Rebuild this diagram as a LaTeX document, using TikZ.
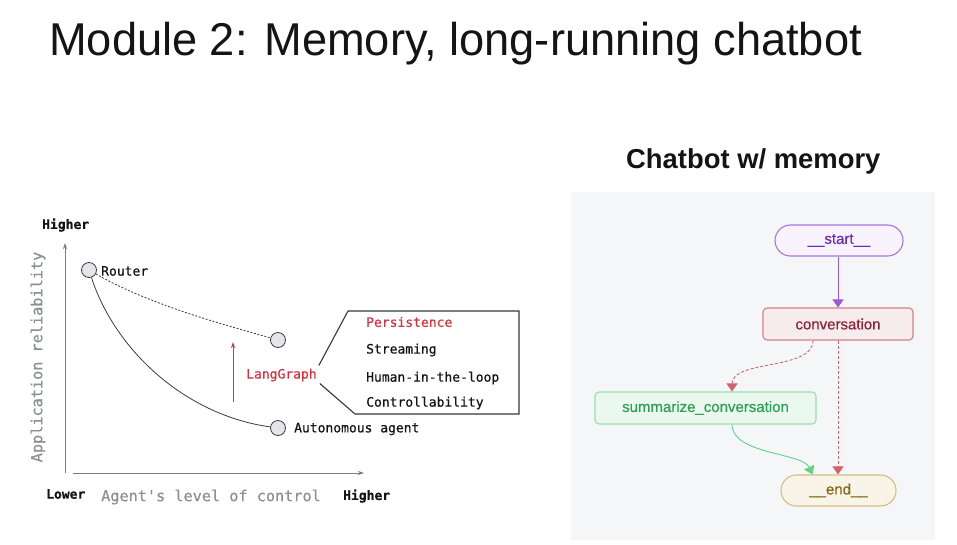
\documentclass[tikz,border=0pt]{standalone}
\usepackage{fontspec}
\setmainfont{Liberation Sans}
\newfontfamily\monofont[FakeBold=0.6]{DejaVu Sans Mono}
\newfontfamily\graphfont[FakeBold=0.5]{Liberation Sans}
\usetikzlibrary{arrows.meta,calc}

\definecolor{ink}{HTML}{141414}
\definecolor{panel}{HTML}{F5F6F8}
\definecolor{axisgray}{HTML}{7A7D82}
\definecolor{labelgray}{HTML}{8C9095}
\definecolor{lgred}{HTML}{D6333F}
\definecolor{dotfill}{HTML}{E3E5E9}
\definecolor{dotline}{HTML}{3C3C3C}
% graph node palette
\definecolor{stline}{HTML}{A874DC}
\definecolor{stfill}{HTML}{F8F2FD}
\definecolor{sttext}{HTML}{6A2DB3}
\definecolor{cvline}{HTML}{D87F88}
\definecolor{cvfill}{HTML}{F6ECEE}
\definecolor{cvtext}{HTML}{8C2433}
\definecolor{smline}{HTML}{93E2AC}
\definecolor{smfill}{HTML}{EAF8EF}
\definecolor{smtext}{HTML}{2E9F55}
\definecolor{enline}{HTML}{D8BC80}
\definecolor{enfill}{HTML}{F8F4E7}
\definecolor{entext}{HTML}{876919}
\definecolor{arpurple}{HTML}{9B57D8}
\definecolor{arred}{HTML}{D2636C}
\definecolor{argreen}{HTML}{62D384}

\tikzset{
  mono/.style={font=\monofont\fontsize{13}{15}\selectfont, inner sep=0pt},
  monobold/.style={font=\monofont\bfseries\fontsize{13}{15}\selectfont, inner sep=0pt, text=ink},
  axislabel/.style={font=\monofont\fontsize{15.2}{17}\selectfont, text=labelgray, inner sep=0pt},
  dot/.style={circle, draw=dotline, fill=dotfill, line width=0.8pt, minimum size=15pt, inner sep=0pt},
  axis/.style={draw=axisgray, line width=0.8pt, -{Stealth[length=6pt,width=4pt]}},
  gnode/.style={rectangle, line width=1.1pt, font=\graphfont\fontsize{15}{17}\selectfont, inner sep=0pt},
  pill/.style={gnode, rounded corners=15.5pt, minimum height=31pt},
  box/.style={gnode, rounded corners=4pt, minimum height=32pt},
  garrow/.style={line width=0.9pt, -{Triangle[length=8pt,width=11pt]}},
}

\begin{document}
\begin{tikzpicture}[x=1pt,y=-1pt]
\useasboundingbox (0,0) rectangle (957,544);
\fill[white] (0,0) rectangle (957,544);

% titles
\node[anchor=base west, inner sep=0pt, text=ink, font=\fontsize{46}{50}\selectfont] (title) at (49,55)
  {\scalebox{0.983}[1]{Module 2: Memory, long-running chatbot}};
\node[anchor=base west, inner sep=0pt, text=ink, font=\bfseries\fontsize{27.4}{30}\selectfont] (subtitle) at (626,168)
  {Chatbot w/ memory};

% ---------- reliability vs control chart ----------
\coordinate (yaxbot) at (65,473);
\coordinate (yaxtop) at (65,243);
\coordinate (xaxleft) at (73,473);
\coordinate (xaxright) at (364,473);
\draw[axis] (yaxbot) -- (yaxtop);
\draw[axis] (xaxleft) -- (xaxright);

\node[monobold, anchor=west] (yhigh) at (42,225) {Higher};
\node[monobold, anchor=west] (xlow) at (46,494) {Lower};
\node[monobold, anchor=west] (xhigh) at (343,496) {Higher};
\node[axislabel, anchor=west] (xlabel) at (101,497) {Agent's level of control};
\node[axislabel, rotate=90] (ylabel) at (38,357) {Application reliability};

\node[dot] (router) at (89,270) {};
\node[dot] (lgdot) at (278,340) {};
\node[dot] (agent) at (278,428) {};
\node[mono, anchor=west, text=ink] (routerlbl) at (101,271) {Router};
\node[mono, anchor=west, text=ink] (agentlbl) at (294,429) {Autonomous agent};

\draw[dotline, line width=0.8pt] (router) .. controls (115,350) and (185,415) .. (agent);
\draw[dotline, line width=0.8pt, dash pattern=on 2pt off 1.6pt] (router) .. controls (150,305) and (225,325) .. (lgdot);

\coordinate (lgarrbot) at (233,402);
\coordinate (lgarrtop) at (233,342);
\draw[lgred, line width=0.9pt, -{Stealth[length=6pt,width=4pt]}] (lgarrbot) -- (lgarrtop);
\node[mono, anchor=west, text=lgred] (langgraph) at (246,375) {LangGraph};

% feature bracket
\draw[ink!85, line width=1.1pt, line join=miter]
  (langgraph.north east) ++(2,-3) -- (348,311) -- (519,311) -- (519,414) -- (355,414) -- ($(langgraph.south east)+(3,2)$);
\node[mono, anchor=west, text=lgred] (persist) at (366,322) {Persistence};
\node[mono, anchor=west, text=ink] (stream) at (366,350) {Streaming};
\node[mono, anchor=west, text=ink] (hitl) at (366,378) {Human-in-the-loop};
\node[mono, anchor=west, text=ink] (control) at (366,403) {Controllability};

% ---------- chatbot graph ----------
\fill[panel] (571,192) rectangle (935,540);

\node[pill, draw=stline, fill=stfill, text=sttext, minimum width=128pt] (start) at (839,240.5) {\_\_start\_\_};
\node[box, draw=cvline, fill=cvfill, text=cvtext, minimum width=150pt] (conv) at (838,324) {conversation};
\node[box, draw=smline, fill=smfill, text=smtext, minimum width=221pt] (summ) at (705.5,408) {summarize\_conversation};
\node[pill, draw=enline, fill=enfill, text=entext, minimum width=115pt] (end) at (838.5,490.5) {\_\_end\_\_};

\draw[garrow, arpurple] (start.south -| conv.north) -- (conv.north);
\draw[garrow, arred, dash pattern=on 3pt off 2pt]
  ([xshift=-25pt]conv.south) .. controls +(0,30) and +(0,-32) .. ([xshift=26.5pt]summ.north);
\draw[garrow, arred, dash pattern=on 3pt off 2pt] (conv.south) -- (conv.south |- end.north);
\draw[garrow, argreen]
  ([xshift=26.5pt]summ.south) .. controls +(0,30) and +(-10,-22) .. ([xshift=-26pt]end.north);

\end{tikzpicture}
\end{document}
